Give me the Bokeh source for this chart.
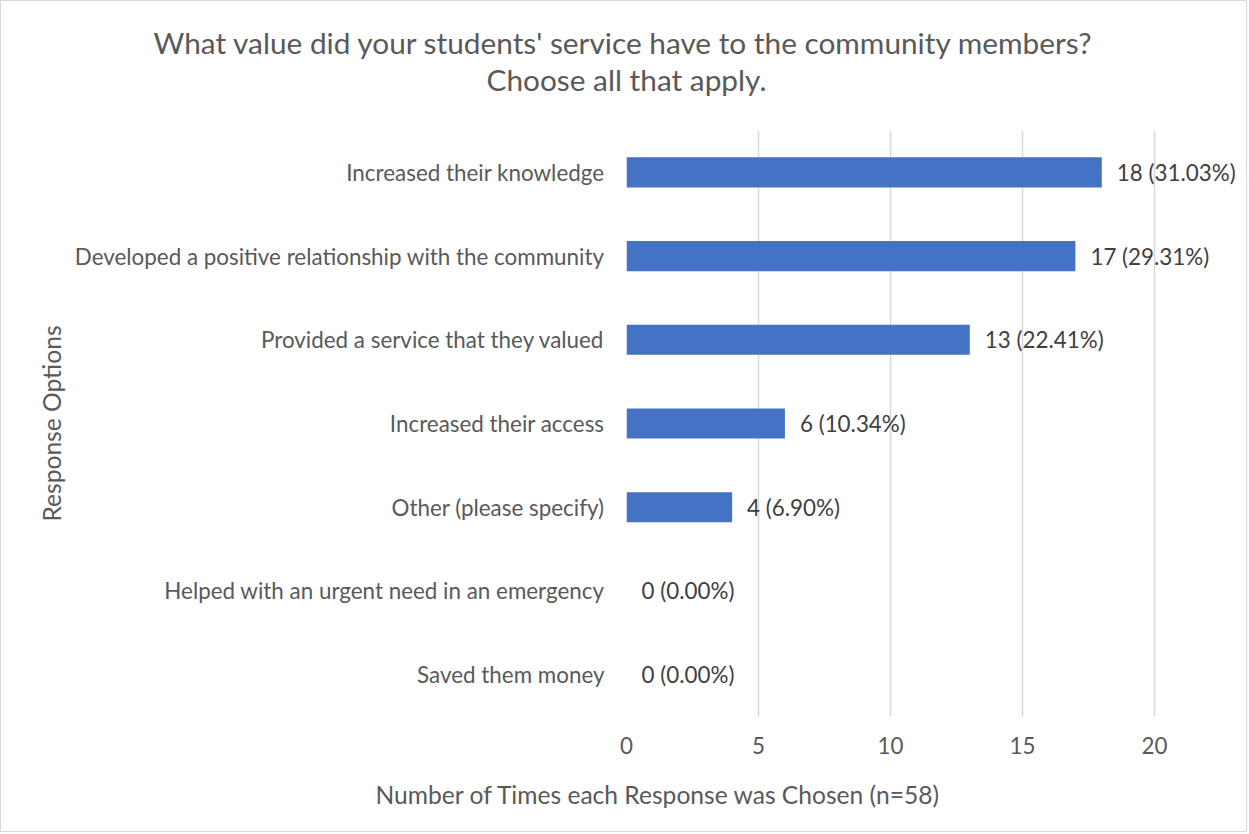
from bokeh.plotting import figure
from bokeh.models import ColumnDataSource, Title, FactorRange, Range1d, FixedTicker
from bokeh.core.properties import value
from bokeh.embed import file_html
from bokeh.resources import INLINE

categories = [
    "Increased their knowledge",
    "Developed a positive relationship with the community",
    "Provided a service that they valued",
    "Increased their access",
    "Other (please specify)",
    "Helped with an urgent need in an emergency",
    "Saved them money",
]
counts = [18, 17, 13, 6, 4, 0, 0]
percents = ["31.03%", "29.31%", "22.41%", "10.34%", "6.90%", "0.00%", "0.00%"]
x_ticks = [0, 5, 10, 15, 20]

FONT = "Lato"
GREY = "#595959"
FS = "22.4px"
FS_AX = "24.6px"
FS_T = "29.8px"

labels = [f"{c} ({p})" for c, p in zip(counts, percents)]
src = ColumnDataSource(dict(cat=categories, val=counts, lab=labels))

p = figure(
    width=1247, height=832,
    y_range=FactorRange(factors=list(reversed(categories))),
    x_range=Range1d(0, 23.48),
    output_backend="svg", toolbar_location=None,
    min_border_left=625, min_border_right=2,
    min_border_top=129, min_border_bottom=117,
)
p.styles = {"border": "1px solid #d9d9d9"}
p.outline_line_color = None
p.background_fill_color = "white"
p.border_fill_color = "white"

p.hbar(y="cat", right="val", left=0, height=0.36, source=src,
       fill_color="#4472c4", line_color=None)

p.text(x="val", y="cat", text="lab", source=src, x_offset=15,
       text_baseline="middle", text_align="left",
       text_font=value(FONT), text_font_size=FS, text_color="#404040")

p.xgrid.ticker = FixedTicker(ticks=x_ticks)
p.xgrid.grid_line_color = "#d9d9d9"
p.xgrid.grid_line_width = 1.5
p.ygrid.grid_line_color = None

p.xaxis.ticker = FixedTicker(ticks=x_ticks)
p.xaxis.axis_line_color = None
p.xaxis.major_tick_line_color = None
p.xaxis.minor_tick_line_color = None
p.xaxis.major_label_text_font = FONT
p.xaxis.major_label_text_font_size = FS
p.xaxis.major_label_text_color = GREY
p.xaxis.major_label_standoff = 14

p.yaxis.axis_line_color = None
p.yaxis.major_tick_line_color = None
p.yaxis.minor_tick_line_color = None
p.yaxis.major_label_text_font = FONT
p.yaxis.major_label_text_font_size = FS
p.yaxis.major_label_text_color = GREY
p.yaxis.major_label_standoff = 16
p.yaxis.axis_label = "Response Options"
p.yaxis.axis_label_text_font = FONT
p.yaxis.axis_label_text_font_size = FS_AX
p.yaxis.axis_label_text_font_style = "normal"
p.yaxis.axis_label_text_color = GREY
p.yaxis.axis_label_standoff = 6

# spacer, then title lines (closest to frame first)
p.add_layout(Title(text=" ", text_font_size="1px", standoff=31), "above")
p.add_layout(Title(text="Choose all that apply.", align="left", offset=-140,
                   text_font=FONT, text_font_size=FS_T, text_font_style="normal",
                   text_color=GREY, standoff=0), "above")
p.add_layout(Title(text="What value did your students' service have to the community members?",
                   align="left", offset=-473,
                   text_font=FONT, text_font_size=FS_T, text_font_style="normal",
                   text_color=GREY, standoff=0), "above")
p.add_layout(Title(text="Number of Times each Response was Chosen (n=58)", align="left", offset=-251,
                   text_font=FONT, text_font_size=FS_AX, text_font_style="normal",
                   text_color=GREY, standoff=42), "below")

open("out.html", "w").write(file_html(p, INLINE))
